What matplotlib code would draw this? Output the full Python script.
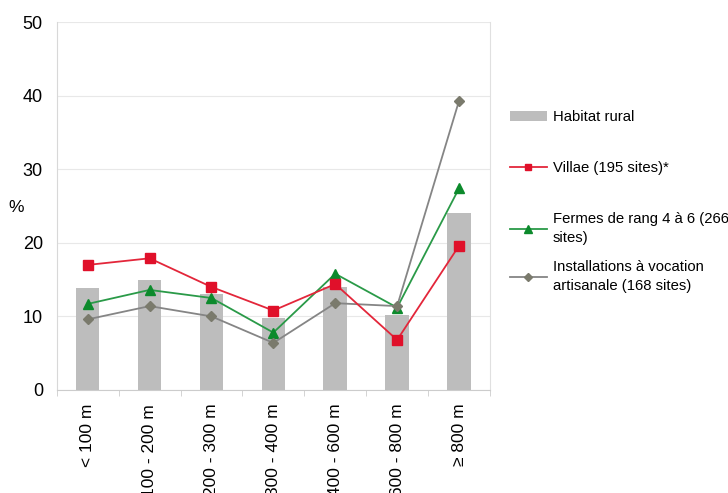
import numpy as np
import matplotlib.pyplot as plt

plt.rcParams['font.family'] = ['Liberation Sans', 'DejaVu Sans']

# data
categories = ['< 100 m', '100 - 200 m', '200 - 300 m', '300 - 400 m',
              '400 - 600 m', '600 - 800 m', '\u2265 800 m']
habitat = [13.9, 14.9, 13.1, 9.8, 14.0, 10.2, 24.1]
villae = [17.0, 17.9, 14.0, 10.8, 14.4, 6.8, 19.6]
fermes = [11.7, 13.6, 12.5, 7.8, 15.8, 11.2, 27.4]
install = [9.6, 11.4, 10.0, 6.4, 11.8, 11.4, 39.3]

x = np.arange(len(categories))

fig = plt.figure(figsize=(7.28, 4.93), dpi=100)
ax = fig.add_axes([0.078, 0.209, 0.595, 0.746])

b = ax.bar(x, habitat, width=0.38, color='#bdbdbd', label='Habitat rural', zorder=2)
l1, = ax.plot(x, villae, color='#e3263a', lw=1.3, marker='s', ms=6.5,
              mfc='#e0102a', mec='#e0102a', label='Villae (195 sites)*', zorder=4)
l2, = ax.plot(x, fermes, color='#2a9a48', lw=1.3, marker='^', ms=7.5,
              mfc='#0c8a2c', mec='#0c8a2c', label='Fermes de rang 4 \u00e0 6 (266\nsites)', zorder=3)
l3, = ax.plot(x, install, color='#858585', lw=1.3, marker='D', ms=5,
              mfc='#7a7a6c', mec='#7a7a6c', label='Installations \u00e0 vocation\nartisanale (168 sites)', zorder=3)

ax.set_xlim(-0.5, 6.5)
ax.set_ylim(0, 50)
ax.set_yticks([0, 10, 20, 30, 40, 50])
ax.grid(axis='y', color='#e8e8e8', lw=0.8, zorder=0)

ax.set_xticks(x)
ax.set_xticklabels(categories, rotation=90, va='top', fontsize=12.5)
ax.set_xticks(np.arange(-0.5, 7, 1), minor=True)
ax.tick_params(axis='x', which='major', length=0, pad=10)
ax.tick_params(axis='x', which='minor', length=4, color='#cccccc')
ax.tick_params(axis='y', length=0, labelsize=13, pad=10)

ax.spines['top'].set_visible(False)
ax.spines['right'].set_color('#e0e0e0')
ax.spines['left'].set_color('#d8d8d8')
ax.spines['bottom'].set_color('#cccccc')

ax.set_ylabel('%', rotation=0, fontsize=12.5, va='center', ha='center')
ax.yaxis.set_label_coords(-0.095, 0.495)

leg_kw = dict(loc='upper left', frameon=False, borderpad=0, fontsize=10.7,
              handlelength=2.5, handletextpad=0.4, markerscale=0.75)
top = [b, l1, l2]
leg1 = fig.legend(top, [h.get_label() for h in top], bbox_to_anchor=(0.69, 0.792),
                  labelspacing=2.5, **leg_kw)
leg2 = fig.legend([l3], [l3.get_label()], bbox_to_anchor=(0.69, 0.488), **leg_kw)
for lg in (leg1, leg2):
    for t in lg.get_texts():
        t.set_linespacing(1.45)

fig.savefig('out.png', dpi=100)
